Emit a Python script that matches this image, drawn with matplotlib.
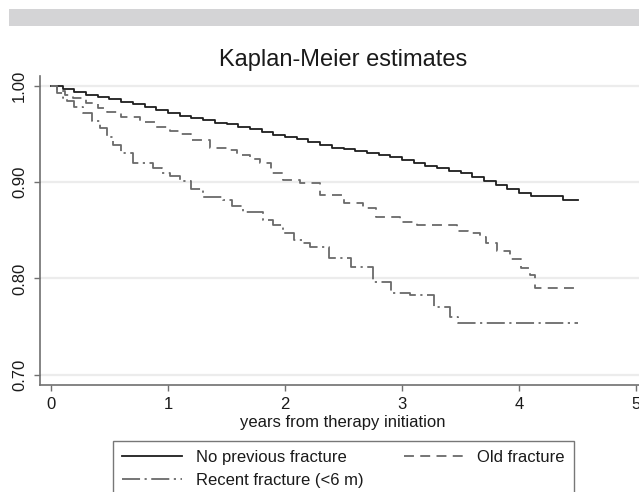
import matplotlib.pyplot as plt
from matplotlib.patches import Rectangle

plt.rcParams['font.family'] = ['Liberation Sans', 'DejaVu Sans']

# Kaplan-Meier step data (time in years, survival)
no_prev_t = [0, 0.1, 0.2, 0.3, 0.4, 0.5, 0.6, 0.7, 0.8, 0.9, 1.0, 1.1, 1.2, 1.3, 1.4,
             1.5, 1.6, 1.7, 1.8, 1.9, 2.0, 2.1, 2.2, 2.3, 2.4, 2.5, 2.6, 2.7, 2.8, 2.9,
             3.0, 3.1, 3.2, 3.3, 3.4, 3.5, 3.6, 3.7, 3.8, 3.9, 4.0, 4.1, 4.38, 4.5]
no_prev_s = [1.0, 0.997, 0.994, 0.991, 0.989, 0.986, 0.983, 0.981, 0.978, 0.975, 0.972,
             0.969, 0.967, 0.965, 0.962, 0.960, 0.957, 0.955, 0.952, 0.949, 0.947,
             0.945, 0.942, 0.939, 0.936, 0.934, 0.932, 0.930, 0.928, 0.926, 0.923,
             0.920, 0.917, 0.915, 0.912, 0.910, 0.905, 0.901, 0.897, 0.893, 0.889,
             0.886, 0.881, 0.881]

old_t = [0, 0.05, 0.12, 0.19, 0.3, 0.4, 0.48, 0.6, 0.76, 0.9, 1.02, 1.1, 1.2, 1.36,
         1.5, 1.59, 1.7, 1.79, 1.88, 1.98, 2.13, 2.3, 2.5, 2.67, 2.78, 2.98, 3.13,
         3.47, 3.56, 3.67, 3.72, 3.81, 3.92, 4.02, 4.09, 4.14, 4.5]
old_s = [1.0, 0.995, 0.991, 0.988, 0.982, 0.977, 0.973, 0.968, 0.963, 0.957, 0.953,
         0.950, 0.944, 0.936, 0.933, 0.928, 0.924, 0.920, 0.910, 0.902, 0.899, 0.887,
         0.878, 0.873, 0.864, 0.859, 0.855, 0.849, 0.847, 0.843, 0.837, 0.828, 0.820,
         0.811, 0.804, 0.790, 0.790]

recent_t = [0, 0.05, 0.1, 0.14, 0.2, 0.27, 0.35, 0.42, 0.48, 0.53, 0.6, 0.7, 0.87,
            0.95, 1.02, 1.1, 1.2, 1.3, 1.47, 1.55, 1.64, 1.81, 1.9, 1.98, 2.08, 2.15,
            2.21, 2.38, 2.56, 2.75, 2.91, 3.07, 3.27, 3.41, 3.48, 4.5]
recent_s = [1.0, 0.993, 0.988, 0.984, 0.978, 0.972, 0.964, 0.956, 0.947, 0.939, 0.930,
            0.920, 0.915, 0.910, 0.906, 0.901, 0.893, 0.885, 0.881, 0.875, 0.869,
            0.861, 0.855, 0.847, 0.840, 0.837, 0.833, 0.821, 0.812, 0.796, 0.785,
            0.783, 0.770, 0.760, 0.754, 0.754]

yticks = [0.70, 0.80, 0.90, 1.00]
xticks = [0, 1, 2, 3, 4, 5]

W, H = 639, 492
fig = plt.figure(figsize=(W / 100, H / 100), dpi=100)

# gray band at the top
fig.patches.append(Rectangle((9 / W, 1 - 26 / H), 1, 17 / H, transform=fig.transFigure,
                             facecolor='#d4d4d6', edgecolor='none'))

ax = fig.add_axes([40 / W, 1 - 385 / H, 620 / W, 309 / H])
ax.set_xlim(-0.094, 5.205)
ax.set_ylim(0.6892, 1.0104)

for y in yticks:
    ax.axhline(y, color='#ececec', lw=1.6, zorder=0)

l1, = ax.plot(no_prev_t, no_prev_s, drawstyle='steps-post', color='#1e1e1e', lw=1.3,
              label='No previous fracture')
l2, = ax.plot(old_t, old_s, drawstyle='steps-post', color='#6a6a6a', lw=1.3,
              dashes=(5.5, 3.5), label='Old fracture')
l3, = ax.plot(recent_t, recent_s, drawstyle='steps-post', color='#6a6a6a', lw=1.3,
              dashes=(10, 2.5, 1.2, 2.5), label='Recent fracture (<6 m)')

for s in ['top', 'right']:
    ax.spines[s].set_visible(False)
for s in ['left', 'bottom']:
    ax.spines[s].set_color('#707070')
    ax.spines[s].set_linewidth(1.2)

ax.set_yticks(yticks)
ax.set_yticklabels([f'{v:.2f}' for v in yticks], rotation=90, va='center')
ax.set_xticks(xticks)
ax.tick_params(axis='both', length=4.3, width=1, color='#707070', labelsize=12,
               labelcolor='#1a1a1a')
ax.tick_params(axis='y', pad=5)
ax.tick_params(axis='x', pad=4)

fig.text(343 / W, 1 - 60 / H, 'Kaplan-Meier estimates', ha='center', va='center',
         fontsize=17, color='#1a1a1a')
fig.text(343 / W, 1 - 423 / H, 'years from therapy initiation', ha='center',
         va='center', fontsize=12, color='#1a1a1a')

# column-first fill: row 1 = no previous / old, row 2 = recent
leg = fig.legend([l1, l3, l2], [l1.get_label(), l3.get_label(), l2.get_label()],
                 loc='upper left', bbox_to_anchor=(113 / W, 0, 461 / W, 1 - 441 / H),
                 mode='expand', ncol=2, fontsize=12, frameon=True, fancybox=False,
                 borderaxespad=0, handlelength=3.6, handletextpad=0.8,
                 labelspacing=0.45, borderpad=0.55)
leg.get_frame().set_edgecolor('#555555')
leg.get_frame().set_linewidth(1.0)
for t in leg.get_texts():
    t.set_color('#1a1a1a')

fig.savefig('out.png', dpi=100)
